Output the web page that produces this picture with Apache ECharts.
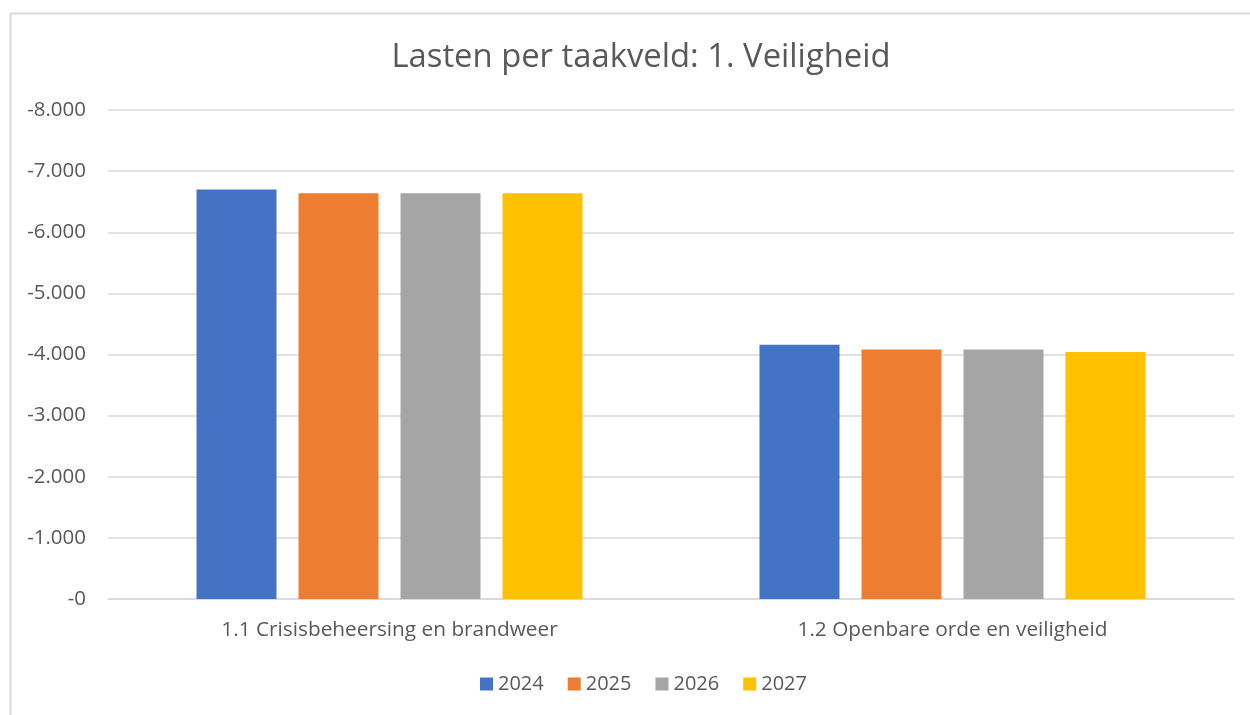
<!DOCTYPE html>
<html>
<head>
<meta charset="utf-8">
<script src="https://cdn.jsdelivr.net/npm/echarts@6/dist/echarts.min.js"></script>
<style>
  html, body { margin: 0; padding: 0; background: #fff; }
  #chart { width: 1250px; height: 715px; }
</style>
</head>
<body>
<div id="chart"></div>
<script>
// categorieen en jaren
var categories = ['1.1 Crisisbeheersing en brandweer', '1.2 Openbare orde en veiligheid'];
var years = ['2024', '2025', '2026', '2027'];
var colors = ['#4472c4', '#ed7d31', '#a5a5a5', '#ffc000'];

// lasten per jaar (x 1.000)
var data2024 = [-6700, -4160];
var data2025 = [-6640, -4080];
var data2026 = [-6640, -4080];
var data2027 = [-6640, -4040];
var seriesData = [data2024, data2025, data2026, data2027];

var textColor = '#595959';
var fontName = 'Open Sans, Liberation Sans, sans-serif';

function fmt(v) {
    var s = String(Math.abs(v)).replace(/\B(?=(\d{3})+(?!\d))/g, '.');
    return '-' + s;
}

var myChart = echarts.init(document.getElementById('chart'));

var series = [];
for (var i = 0; i < years.length; i++) {
    series.push({
        name: years[i],
        type: 'bar',
        data: seriesData[i],
        barWidth: 80,
        barGap: '27.5%',
        itemStyle: { color: colors[i] }
    });
}

var option = {
    animation: false,
    textStyle: { fontFamily: fontName },
    title: {
        text: 'Lasten per taakveld: 1. Veiligheid',
        left: 636,
        textAlign: 'center',
        top: 36,
        textStyle: { fontSize: 32.8, fontWeight: 'normal', color: textColor, fontFamily: fontName }
    },
    legend: {
        data: years,
        bottom: 16,
        left: 475,
        icon: 'rect',
        itemWidth: 13,
        itemHeight: 13,
        itemGap: 24,
        textStyle: { fontSize: 20, color: textColor, fontFamily: fontName }
    },
    grid: {
        left: 108,
        right: 16,
        top: 110,
        bottom: 116
    },
    xAxis: {
        type: 'category',
        data: categories,
        axisLine: { lineStyle: { color: '#d9d9d9', width: 1.5 } },
        axisTick: { show: false },
        axisLabel: { fontSize: 20.8, color: textColor, margin: 21, fontFamily: fontName }
    },
    yAxis: {
        type: 'value',
        inverse: true,
        min: -8000,
        max: 0,
        interval: 1000,
        axisLine: { show: false },
        axisTick: { show: false },
        splitLine: { lineStyle: { color: '#d9d9d9', width: 1.5 } },
        axisLabel: {
            fontSize: 20.5,
            color: textColor,
            margin: 22,
            fontFamily: fontName,
            formatter: fmt
        }
    },
    graphic: [{
        type: 'rect',
        left: 8,
        top: 11,
        shape: { width: 1300, height: 800 },
        style: { fill: 'none', stroke: '#d9d9d9', lineWidth: 2 },
        silent: true
    }],
    series: series
};

myChart.setOption(option);
</script>
</body>
</html>
